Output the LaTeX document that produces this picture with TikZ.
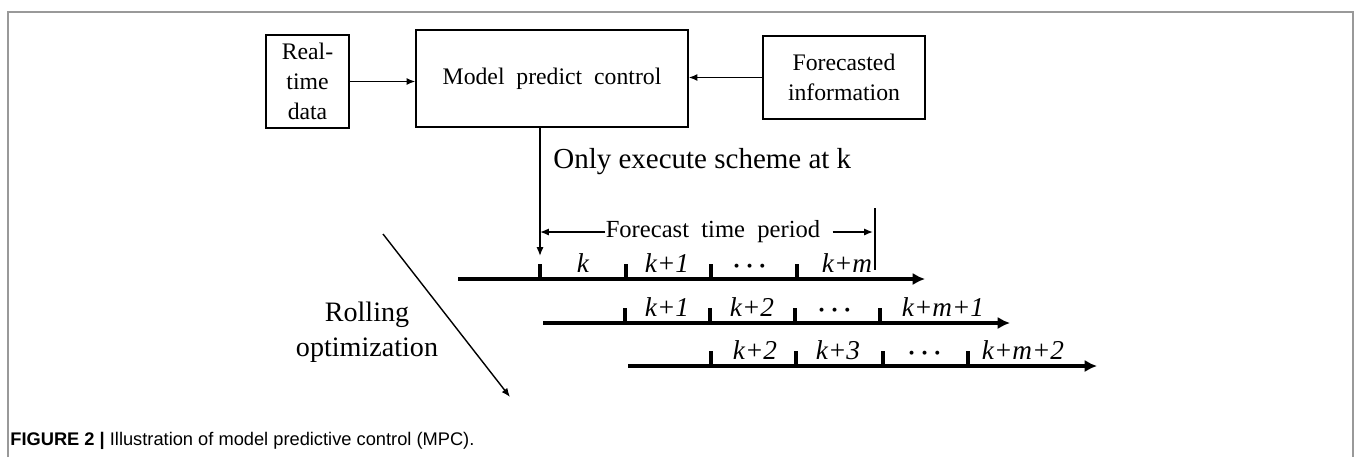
\documentclass[tikz,border=0pt]{standalone}
\usepackage{amsmath}
\usepackage{fontspec}
\setmainfont{Liberation Serif}
\newfontfamily\capfont{Liberation Sans}
\usepackage{tikz}
\usetikzlibrary{arrows.meta}
\def\boxnode{\node[draw,line width=0.8pt,align=center,inner sep=0pt,font=\fontsize{13.5}{17}\selectfont]}
\tikzset{
  conn/.style={line width=0.8pt,-{Latex[length=5pt,width=4pt]}},
  timeline/.style={line width=2.1pt,-{Latex[length=7pt,width=7pt]}},
  tickmark/.style={line width=1.9pt},
  lab/.style={anchor=base,font=\fontsize{15.5}{18}\selectfont\itshape}
}

\begin{document}
\begin{tikzpicture}[x=0.02cm,y=-0.02cm]
\useasboundingbox (0,0) rectangle (1356,457);
\draw[gray!80,line width=0.6pt] (8,457) -- (8,12) -- (1353,12) -- (1353,457);
\boxnode[minimum width=1.66cm,minimum height=1.86cm] (rt) at (307.5,81.5) {Real-\\time\\data};
\boxnode[minimum width=5.44cm,minimum height=1.94cm] (mpc) at (552,78.5) {Model~ predict~ control};
\boxnode[minimum width=3.24cm,minimum height=1.66cm] (fc) at (844,77.5) {Forecasted\\information};
\draw[conn] (rt.east) -- (rt.east -| mpc.west);
\draw[conn] (fc.west) -- (fc.west -| mpc.east);
\node[anchor=base west,inner sep=0pt,font=\fontsize{16.5}{20}\selectfont] (exec) at (553,168) {Only execute scheme at k};
\coordinate (k0) at (540,256);
\draw[conn] (mpc.south -| k0) -- (k0);
\node[inner sep=0pt,font=\fontsize{14}{17}\selectfont] (fp) at (713,232) {Forecast~ time~ period};
\coordinate (pend) at (873,232);
\draw[conn] (fp.west) -- (fp.west -| k0);
\draw[conn] ([xshift=0.24cm]fp.east) -- (pend);
\draw[line width=0.6pt] (875,208) -- (875,270);
\coordinate (r1s) at (458,279);
\coordinate (r1e) at (925,279);
\coordinate (r2s) at (543,323);
\coordinate (r2e) at (1010,323);
\coordinate (r3s) at (628,366);
\coordinate (r3e) at (1097,366);
\draw[timeline] (r1s) -- (r1e);
\draw[timeline] (r2s) -- (r2e);
\draw[timeline] (r3s) -- (r3e);
\draw[tickmark] (540,279) -- ++(0,-15);
\draw[tickmark] (626,279) -- ++(0,-15);
\draw[tickmark] (711,279) -- ++(0,-15);
\draw[tickmark] (797,279) -- ++(0,-15);
\draw[tickmark] (625,323) -- ++(0,-15);
\draw[tickmark] (710,323) -- ++(0,-15);
\draw[tickmark] (795,323) -- ++(0,-15);
\draw[tickmark] (880,323) -- ++(0,-15);
\draw[tickmark] (711,366) -- ++(0,-15);
\draw[tickmark] (796,366) -- ++(0,-15);
\draw[tickmark] (883,366) -- ++(0,-15);
\draw[tickmark] (968,366) -- ++(0,-15);
\node[lab] (a1) at (583,272) {k};
\node[lab] (a2) at (667,272) {k+1};
\node[lab] (a3) at (752,272) {$\boldsymbol{\cdots}$};
\node[lab] (a4) at (847,272) {k+m};
\node[lab] (b1) at (667,316) {k+1};
\node[lab] (b2) at (752,316) {k+2};
\node[lab] (b3) at (837,316) {$\boldsymbol{\cdots}$};
\node[lab] (b4) at (943,316) {k+m+1};
\node[lab] (c1) at (755,359) {k+2};
\node[lab] (c2) at (838,359) {k+3};
\node[lab] (c3) at (927,359) {$\boldsymbol{\cdots}$};
\node[lab] (c4) at (1023,359) {k+m+2};
\node[align=center,inner sep=0pt,font=\fontsize{16}{19.8}\selectfont] (roll) at (367,332) {Rolling\\optimization};
\coordinate (rolls) at (383,234);
\coordinate (rolle) at (510,397);
\draw[conn] (rolls) -- (rolle);
\node[anchor=base west,inner sep=0pt,font=\capfont\fontsize{10.4}{12}\selectfont] (cap) at (10,445) {\textbf{FIGURE 2 |} Illustration of model predictive control (MPC).};
\end{tikzpicture}
\end{document}
